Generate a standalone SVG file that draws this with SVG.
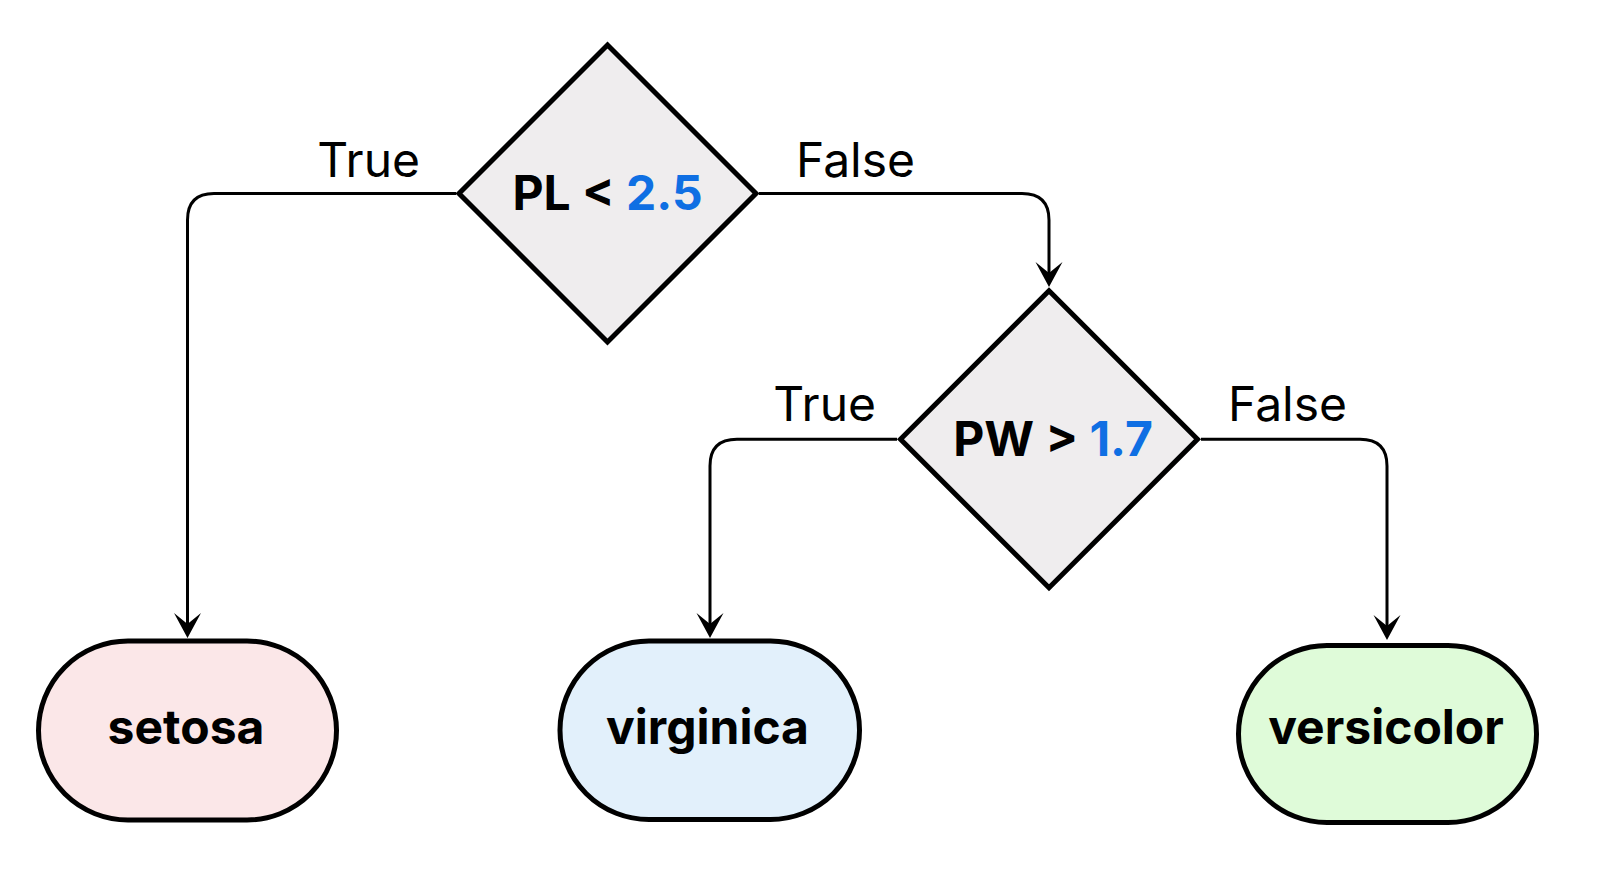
<svg xmlns="http://www.w3.org/2000/svg" width="1602" height="882" viewBox="0 0 1602 882">
<style>
.dia{fill:#efedee;stroke:#000;stroke-width:5;stroke-linejoin:miter}
.pill{stroke:#000;stroke-width:5}
.edge{fill:none;stroke:#000;stroke-width:3}
.lbl{font-family:Inter,"Liberation Sans",sans-serif;font-size:48px;fill:#000}
.cond{font-family:Inter,"Liberation Sans",sans-serif;font-size:48px;font-weight:700;fill:#000}
.leaf{font-family:Inter,"Liberation Sans",sans-serif;font-size:48px;font-weight:700;fill:#000}
.num{fill:#0f6fe3}
</style>
<defs>
<marker id="arr" markerUnits="userSpaceOnUse" viewBox="-13 -14 27 28" refX="0" refY="0" markerWidth="27" markerHeight="28" orient="auto">
<path d="M13,0 L-12,-13.5 L-1,0 L-12,13.5 Z" fill="#000"/>
</marker>
</defs>
<rect width="1602" height="882" fill="#fff"/>
<g id="connectors">
<path class="edge" d="M456,193.5 H214 Q187.5,193.5 187.5,220 V625" marker-end="url(#arr)"/>
<path class="edge" d="M759,193.5 H1022 Q1049,193.5 1049,220 V274" marker-end="url(#arr)"/>
<path class="edge" d="M897,439.3 H737 Q710,439.3 710,466 V625" marker-end="url(#arr)"/>
<path class="edge" d="M1201,439.3 H1360 Q1387,439.3 1387,466 V627" marker-end="url(#arr)"/>
<text class="lbl" x="420" y="177" text-anchor="end">True</text>
<text class="lbl" x="796" y="177">False</text>
<text class="lbl" x="876" y="420.5" text-anchor="end">True</text>
<text class="lbl" x="1228" y="420.5">False</text>
</g>
<g id="node-pl">
<path class="dia" d="M607.5,45 L756,193.5 L607.5,342 L459,193.5 Z"/>
<text class="cond" x="607.5" y="210" text-anchor="middle">PL &lt; <tspan class="num">2.5</tspan></text>
</g>
<g id="node-pw">
<path class="dia" d="M1049,290.8 L1197.5,439.3 L1049,587.8 L900.5,439.3 Z"/>
<text class="cond" x="1053" y="456" text-anchor="middle">PW &gt; <tspan class="num">1.7</tspan></text>
</g>
<g id="node-setosa">
<rect class="pill" x="38.5" y="641" width="298" height="179" rx="89.5" ry="89.5" fill="#fbe7e8"/>
<text class="leaf" x="186" y="743.5" text-anchor="middle">setosa</text>
</g>
<g id="node-virginica">
<rect class="pill" x="560" y="641" width="299.5" height="178.5" rx="89" ry="89" fill="#e2f0fb"/>
<text class="leaf" x="707.5" y="744" text-anchor="middle">virginica</text>
</g>
<g id="node-versicolor">
<rect class="pill" x="1238.5" y="645.5" width="298" height="177" rx="88.5" ry="88.5" fill="#dffbd9"/>
<text class="leaf" x="1386" y="743.5" text-anchor="middle">versicolor</text>
</g>
</svg>
